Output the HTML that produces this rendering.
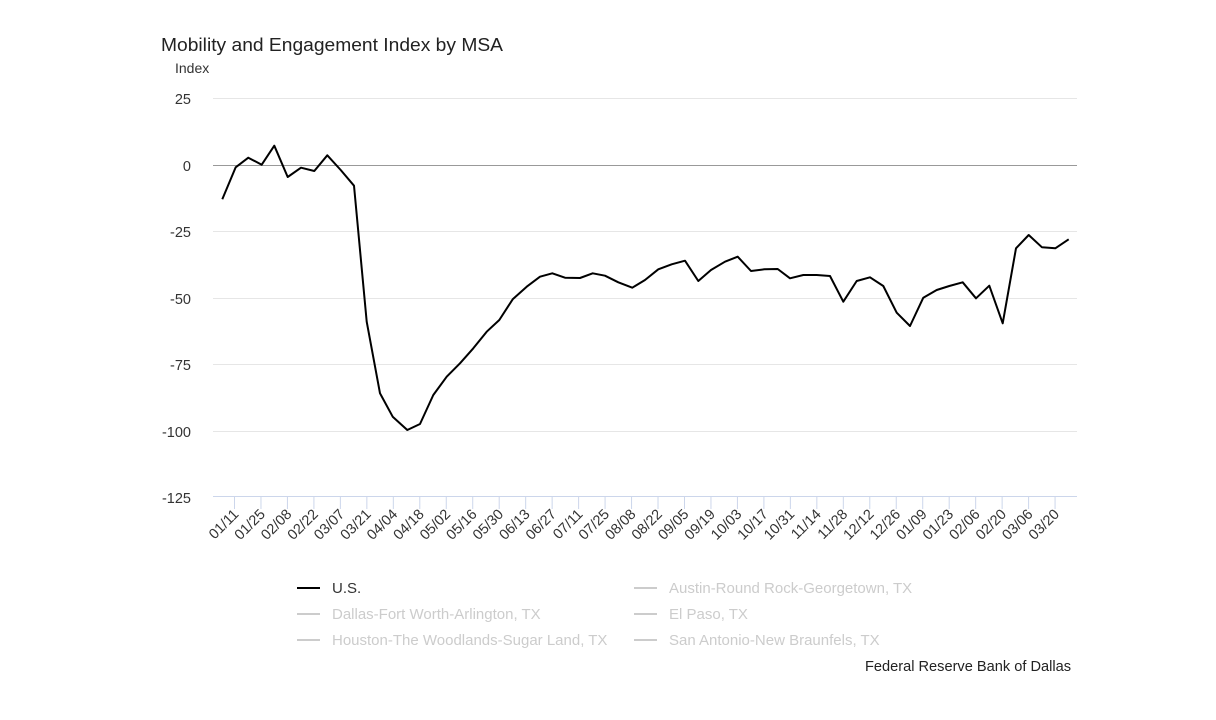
<!DOCTYPE html>
<html><head><meta charset="utf-8"><style>
html,body{margin:0;padding:0;background:#fff;}
svg{display:block;font-family:"Liberation Sans",Arial,sans-serif;}
</style></head><body>
<svg width="1216" height="720" viewBox="0 0 1216 720" xmlns="http://www.w3.org/2000/svg">
<text x="161" y="51" font-size="18" fill="#222" textLength="342" lengthAdjust="spacingAndGlyphs">Mobility and Engagement Index by MSA</text>
<text x="175" y="73" font-size="14" fill="#333">Index</text>
<g stroke="#e6e6e6" stroke-width="1">
<line x1="213" x2="1077" y1="98.5" y2="98.5"/>
<line x1="213" x2="1077" y1="231.5" y2="231.5"/>
<line x1="213" x2="1077" y1="298.5" y2="298.5"/>
<line x1="213" x2="1077" y1="364.5" y2="364.5"/>
<line x1="213" x2="1077" y1="431.5" y2="431.5"/>
</g>
<line x1="213" x2="1077" y1="165.5" y2="165.5" stroke="#999" stroke-width="1"/>
<g font-size="14.5" fill="#333" text-anchor="end">
<text x="191" y="104">25</text>
<text x="191" y="171">0</text>
<text x="191" y="237">-25</text>
<text x="191" y="304">-50</text>
<text x="191" y="370">-75</text>
<text x="191" y="437">-100</text>
<text x="191" y="503">-125</text>
</g>
<line x1="213" x2="1077" y1="496.5" y2="496.5" stroke="#ccd6eb" stroke-width="1"/>
<g id="ticks" stroke="#ccd6eb" stroke-width="1"></g>
<g id="xl" font-size="14.5" fill="#333" text-anchor="end"></g>
<polyline fill="none" stroke="#000" stroke-width="2" stroke-linejoin="round" points="222.3,199.3 235.7,167.3 248.3,157.7 261.7,164.7 274.3,145.7 287.7,177 301,167.7 314.3,171 327.3,155.3 340.7,170 354,185.7 366.7,321.7 380,393.3 392.7,416.7 407.3,430 420,424 433.3,395 446.7,376.7 460,363.3 473.3,348.3 486.7,331.7 499.3,320 512.7,299.3 526.7,286.7 540,276.7 552.3,273.3 565,277.7 580,278 592.7,273.3 605,275.7 618.3,282.3 632.3,287.7 645,280 658.3,269.3 671.7,264.3 685,260.7 698.3,281 711,270 725,261.7 737.7,256.7 751,271 764.3,269.3 777.7,269 790,278.3 803.3,275 816.7,275 830,276 843.3,301.7 856.7,281 870,277.3 883.3,286 896.7,312.7 910,326 923.3,297.7 936.7,290 949.3,286 962.7,282.3 976,298.3 989.3,285.7 1002.7,323.3 1016,248.3 1028.7,235 1042,247.3 1055.3,248.3 1068.7,239.3"/>
<g font-size="15">
<line x1="297" x2="320" y1="588" y2="588" stroke="#000" stroke-width="2"/>
<text x="332" y="593" fill="#333">U.S.</text>
<line x1="297" x2="320" y1="614" y2="614" stroke="#ccc" stroke-width="2"/>
<text x="332" y="619" fill="#ccc">Dallas-Fort Worth-Arlington, TX</text>
<line x1="297" x2="320" y1="640" y2="640" stroke="#ccc" stroke-width="2"/>
<text x="332" y="645" fill="#ccc">Houston-The Woodlands-Sugar Land, TX</text>
<line x1="634" x2="657" y1="588" y2="588" stroke="#ccc" stroke-width="2"/>
<text x="669" y="593" fill="#ccc">Austin-Round Rock-Georgetown, TX</text>
<line x1="634" x2="657" y1="614" y2="614" stroke="#ccc" stroke-width="2"/>
<text x="669" y="619" fill="#ccc">El Paso, TX</text>
<line x1="634" x2="657" y1="640" y2="640" stroke="#ccc" stroke-width="2"/>
<text x="669" y="645" fill="#ccc">San Antonio-New Braunfels, TX</text>
</g>
<text x="1071" y="671" font-size="14.6" fill="#222" text-anchor="end">Federal Reserve Bank of Dallas</text>
</svg>
<script>
var labels=["01/11","01/25","02/08","02/22","03/07","03/21","04/04","04/18","05/02","05/16","05/30","06/13","06/27","07/11","07/25","08/08","08/22","09/05","09/19","10/03","10/17","10/31","11/14","11/28","12/12","12/26","01/09","01/23","02/06","02/20","03/06","03/20"];
var ns="http://www.w3.org/2000/svg",t=document.getElementById("ticks"),xl=document.getElementById("xl");
labels.forEach(function(l,i){var x=234.5+i*26.47;
var ln=document.createElementNS(ns,"line");ln.setAttribute("x1",x);ln.setAttribute("x2",x);ln.setAttribute("y1",497);ln.setAttribute("y2",509);t.appendChild(ln);
var tx=document.createElementNS(ns,"text");tx.setAttribute("x",x+5);tx.setAttribute("y",515);tx.setAttribute("transform","rotate(-45 "+(x+5)+" 515)");tx.textContent=l;xl.appendChild(tx);});
</script>
</body></html>
